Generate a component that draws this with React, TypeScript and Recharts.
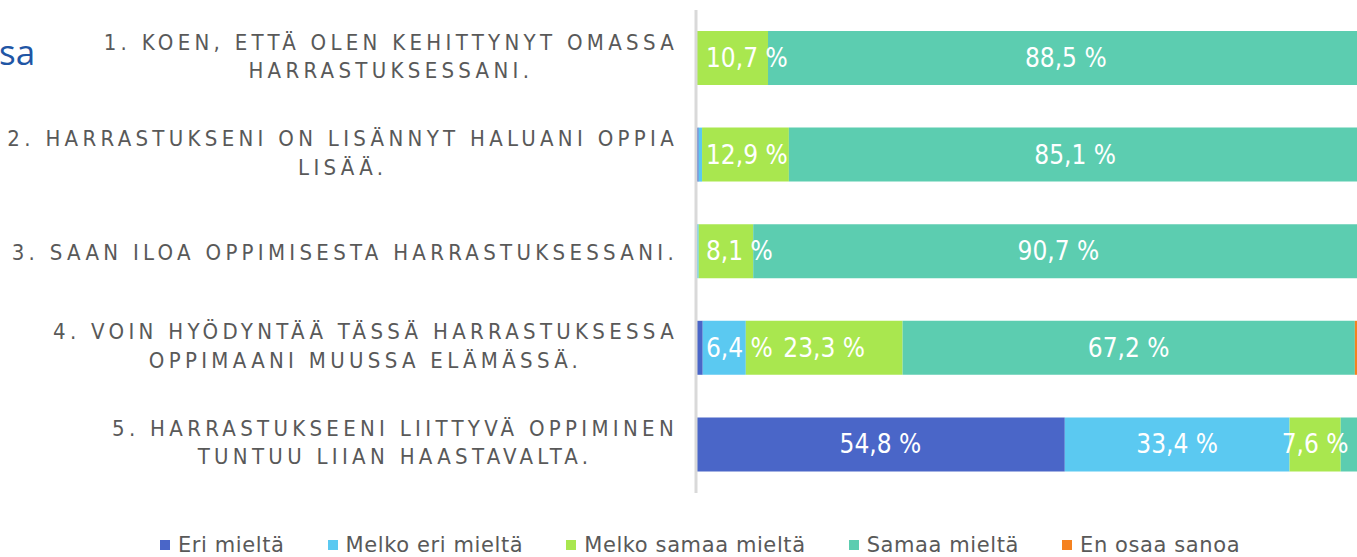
import { BarChart, Bar, XAxis, YAxis, Legend, LabelList } from 'recharts';

const statements = [
  ['1. KOEN, ETTÄ OLEN KEHITTYNYT OMASSA', 'HARRASTUKSESSANI.'],
  ['2. HARRASTUKSENI ON LISÄNNYT HALUANI OPPIA', 'LISÄÄ.'],
  ['3. SAAN ILOA OPPIMISESTA HARRASTUKSESSANI.'],
  ['4. VOIN HYÖDYNTÄÄ TÄSSÄ HARRASTUKSESSA', 'OPPIMAANI MUUSSA ELÄMÄSSÄ.'],
  ['5. HARRASTUKSEENI LIITTYVÄ OPPIMINEN', 'TUNTUU LIIAN HAASTAVALTA.'],
];

const eriMielta = [0, 0.4, 0, 1.0, 54.8];
const melkoEriMielta = [0, 0.5, 0.4, 6.4, 33.4];
const melkoSamaaMielta = [10.7, 12.9, 8.1, 23.3, 7.6];
const samaaMielta = [88.5, 85.1, 90.7, 67.2, 4.2];
const enOsaaSanoa = [0.8, 1.1, 0.8, 2.1, 0];

const series = [
  { key: 'eri', name: 'Eri mieltä', color: '#4a66c8', values: eriMielta },
  { key: 'melkoEri', name: 'Melko eri mieltä', color: '#5bc9f1', values: melkoEriMielta },
  { key: 'melkoSamaa', name: 'Melko samaa mieltä', color: '#a9e74f', values: melkoSamaaMielta },
  { key: 'samaa', name: 'Samaa mieltä', color: '#5ccdb0', values: samaaMielta },
  { key: 'enOsaa', name: 'En osaa sanoa', color: '#f58220', values: enOsaaSanoa },
];

const data = statements.map((lines, i) => {
  const row: Record<string, any> = { id: String(i), lines };
  series.forEach((s) => {
    row[s.key] = s.values[i];
  });
  return row;
});

const AXIS_WIDTH = 696;
const TICK_FONT = '22px "DejaVu Sans Condensed"';
const TICK_SPACING = 4.3;
const LABEL_FONT = '26px "DejaVu Sans Condensed"';

let ctx: CanvasRenderingContext2D | null = null;
function textWidth(str: string, font: string, spacing: number) {
  if (!ctx) ctx = document.createElement('canvas').getContext('2d');
  if (!ctx) return str.length * 12;
  ctx.font = font;
  return ctx.measureText(str).width + spacing * str.length;
}

function StatementTick(props: any) {
  const { x, y, payload } = props;
  const lines: string[] = statements[Number(payload.value)];
  const right = x - 18;
  const maxW = Math.max(...lines.map((l) => textWidth(l, TICK_FONT, TICK_SPACING)));
  const cx = right - maxW / 2;
  const n = lines.length;
  return (
    <g>
      {lines.map((line, i) => (
        <text
          key={i}
          x={cx}
          y={y + 8 - (n > 1 ? 2.5 : 0) + (i - (n - 1) / 2) * 28.4}
          textAnchor="middle"
          fill="#595959"
          style={{ font: TICK_FONT, letterSpacing: TICK_SPACING }}
        >
          {line}
        </text>
      ))}
    </g>
  );
}

function ValueLabel(props: any) {
  const { x, y, width, height, value } = props;
  if (value < 5) return null;
  const txt = value.toFixed(1).replace('.', ',') + ' %';
  const half = textWidth(txt, LABEL_FONT, 0) / 2;
  // keep labels of thin first segments off the axis line
  const cx = Math.max(x + width / 2, AXIS_WIDTH + half + 10);
  return (
    <text
      x={cx}
      y={y + height / 2 + 9}
      textAnchor="middle"
      fill="#ffffff"
      style={{ font: LABEL_FONT }}
    >
      {txt}
    </text>
  );
}

function LegendContent() {
  return (
    <div style={{ display: 'flex', alignItems: 'center', gap: 43 }}>
      {series.map((s) => (
        <div key={s.key} style={{ display: 'flex', alignItems: 'center' }}>
          <span style={{ width: 10, height: 10, background: s.color, marginRight: 8, display: 'inline-block' }} />
          <span
            style={{
              fontFamily: '"DejaVu Sans"',
              fontSize: 21,
              letterSpacing: 0.6,
              color: '#595959',
              whiteSpace: 'nowrap',
            }}
          >
            {s.name}
          </span>
        </div>
      ))}
    </div>
  );
}

export default function App() {
  return (
    <div
      style={{
        position: 'absolute',
        left: 0,
        top: 0,
        width: 1357,
        height: 557,
        overflow: 'hidden',
        background: '#ffffff',
      }}
    >
      <span
        style={{
          position: 'absolute',
          left: -1,
          top: 28,
          fontFamily: '"Open Sans"',
          fontSize: 35,
          color: '#1f56a5',
        }}
      >
        sa
      </span>
      <BarChart
        width={1380}
        height={557}
        data={data}
        layout="vertical"
        barSize={54}
        margin={{ top: 10, right: 11, bottom: 64, left: 0 }}
      >
        <XAxis type="number" domain={[0, 100]} hide />
        <YAxis
          type="category"
          dataKey="id"
          width={AXIS_WIDTH}
          tickLine={false}
          tickSize={0}
          tickMargin={0}
          axisLine={{ stroke: '#d9d9d9', strokeWidth: 3 }}
          tick={<StatementTick />}
          interval={0}
        />
        <Legend
          verticalAlign="middle"
          align="center"
          layout="horizontal"
          content={<LegendContent />}
          wrapperStyle={{ left: 160, top: 533, width: 'auto' }}
        />
        {series.map((s) => (
          <Bar key={s.key} dataKey={s.key} name={s.name} stackId="a" fill={s.color} isAnimationActive={false}>
            <LabelList dataKey={s.key} content={<ValueLabel />} />
          </Bar>
        ))}
      </BarChart>
    </div>
  );
}
